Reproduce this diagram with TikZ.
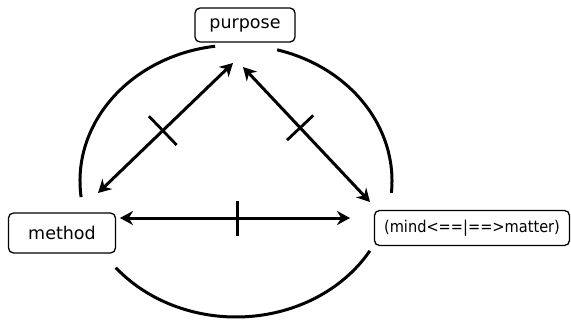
\documentclass[tikz,border=0pt]{standalone}
\usepackage{fontspec}
\setmainfont{DejaVu Sans}
\newfontfamily\narrowfont{DejaVu Sans Condensed}
\usetikzlibrary{arrows.meta}

\begin{document}
\begin{tikzpicture}[x=1pt, y=-1pt,
    box/.style={draw, line width=1.3pt, rounded corners=5pt, inner sep=0pt,
      font=\fontsize{17.5}{19}\selectfont},
    link/.style={line width=3pt, {Stealth[length=13pt,width=14pt]}-{Stealth[length=13pt,width=14pt]}},
    tick/.style={sloped, inner sep=0pt},
    ring/.style={line width=3pt}]
  \useasboundingbox (0,0) rectangle (571,322);
  % the three corners
  \node[box, minimum width=100pt, minimum height=34pt] (purpose) at (245,25) {purpose};
  \node[box, minimum width=107pt, minimum height=40pt] (method) at (62,233) {method};
  \node[box, minimum width=195pt, minimum height=35pt,
        font=\narrowfont\fontsize{16.2}{18}\selectfont] (mind) at (472,228) {(mind<==|==>matter)};
  % arrow ends
  \coordinate (pm) at (233,63);
  \coordinate (mp) at (98,193);
  \coordinate (pd) at (243,67);
  \coordinate (dp) at (370,202);
  \coordinate (md) at (120,218);
  \coordinate (dm) at (350,218);
  \draw[link] (pm) -- node[tick, pos=0.52] (t1) {\rule{2.8pt}{40pt}} (mp);
  \draw[link] (pd) -- node[tick, pos=0.45] (t2) {\rule{2.8pt}{36pt}} (dp);
  \draw[link] (md) -- node[tick, pos=0.51] (t3) {\rule{3.2pt}{35pt}} (dm);
  % the ring round them
  \coordinate (c) at (236,181);
  \draw[ring] (c) ++(97.7:156pt and 136pt)
    arc[start angle=97.7, end angle=186.8, x radius=156pt, y radius=136pt];
  \draw[ring] (c) ++(74.7:156pt and 136pt)
    arc[start angle=74.7, end angle=-5, x radius=156pt, y radius=136pt];
  \draw[ring] (c) ++(219.6:156pt and 136pt)
    arc[start angle=219.6, end angle=329.1, x radius=156pt, y radius=136pt];
\end{tikzpicture}
\end{document}
